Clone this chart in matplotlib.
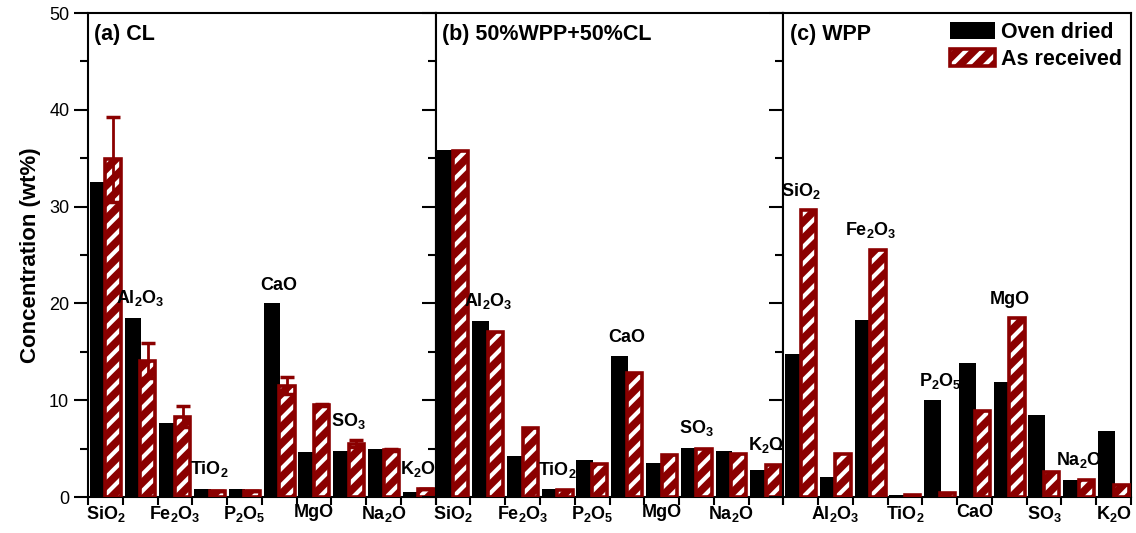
#!/usr/bin/env python3
# -*- coding: utf-8 -*-

import numpy as np
import matplotlib
matplotlib.use("Agg")
import matplotlib.pyplot as plt
from matplotlib.ticker import MultipleLocator


# ============================================================
# DATA (wt%)
# ============================================================

oxides = ["SiO$_2$", "Al$_2$O$_3$", "Fe$_2$O$_3$", "TiO$_2$", "P$_2$O$_5$",
          "CaO", "MgO", "SO$_3$", "Na$_2$O", "K$_2$O"]

panel_titles = ["(a) CL", "(b) 50%WPP+50%CL", "(c) WPP"]

cl_dried = [32.5, 18.5, 7.6, 0.85, 0.85, 20.0, 4.6, 4.75, 5.0, 0.5]
cl_received = [34.9, 14.1, 8.3, 0.65, 0.6, 11.5, 9.5, 5.5, 4.9, 0.85]
cl_received_err = [4.4, 1.8, 1.1, 0.0, 0.0, 0.9, 0.15, 0.35, 0.1, 0.0]

mix_dried = [35.8, 18.2, 4.2, 0.8, 3.8, 14.6, 3.5, 5.1, 4.8, 2.75]
mix_received = [35.7, 17.0, 7.1, 0.7, 3.4, 12.8, 4.3, 4.95, 4.45, 3.3]

wpp_dried = [14.8, 2.1, 18.25, 0.2, 10.0, 13.8, 11.9, 8.5, 1.8, 6.8]
wpp_received = [29.6, 4.4, 25.5, 0.25, 0.4, 8.9, 18.5, 2.6, 1.75, 1.2]

legend_labels = ["Oven dried", "As received"]


# ============================================================
# STYLE
# ============================================================

plt.rcParams.update({
    "font.family": ["Liberation Sans", "DejaVu Sans"],
    "font.weight": "bold",
    "mathtext.default": "regular",
    "axes.linewidth": 1.5,
    "hatch.linewidth": 3.0,
})

RED = "#8B0000"

fig = plt.figure(figsize=(11.36, 5.33), dpi=100)

left, right = 88 / 1136, 1131 / 1136
bottom, top = 1 - 497 / 533, 1 - 13 / 533
pw = (right - left) / 3

panels = [
    (cl_dried, cl_received, cl_received_err, 0),
    (mix_dried, mix_received, None, 0),
    (wpp_dried, wpp_received, None, 1),
]

x = np.arange(len(oxides))

for k, (dried, recv, err, parity) in enumerate(panels):
    ax = fig.add_axes([left + k * pw, bottom, pw, top - bottom])
    dried = np.array(dried)
    recv = np.array(recv)

    b_black = ax.bar(x + 0.29, dried, width=0.48, color="black",
                     edgecolor="none", zorder=2)
    b_fill = ax.bar(x + 0.72, recv, width=0.44, color=RED,
                    edgecolor="white", hatch="//", linewidth=0, zorder=3)
    b_edge = ax.bar(x + 0.72, recv, width=0.44, fill=False,
                    edgecolor=RED, linewidth=2.6, zorder=4)

    top_vals = np.maximum(dried, recv)
    if err is not None:
        err = np.array(err)
        ax.errorbar(x + 0.72, recv, yerr=err, fmt="none", ecolor=RED,
                    elinewidth=2, capsize=5, capthick=2.5, zorder=5)
        top_vals = np.maximum(dried, recv + err)

    # labels: half below the axis, half above the bars
    below = [i for i in x if i % 2 == parity]
    above = [i for i in x if i % 2 != parity]

    ax.set_xlim(0, len(oxides))
    ax.set_ylim(0, 50)
    ax.set_xticks(np.arange(len(oxides) + 1))
    ax.set_xticklabels([])
    ax.set_xticks([i + 0.5 for i in below], minor=True)
    ax.set_xticklabels([oxides[i] for i in below], minor=True,
                       fontsize=13, fontweight="bold")
    ax.tick_params(axis="x", which="major", direction="out", length=6,
                   width=1.5)
    ax.tick_params(axis="x", which="minor", length=0, pad=5)

    for i in above:
        ax.text(i + 0.5, top_vals[i] + 1.0, oxides[i], ha="center",
                va="bottom", fontsize=13, fontweight="bold", zorder=6)

    ax.yaxis.set_major_locator(MultipleLocator(10))
    ax.yaxis.set_minor_locator(MultipleLocator(5))
    ax.tick_params(axis="y", which="major", direction="out", length=10,
                   width=1.5, labelsize=13)
    ax.tick_params(axis="y", which="minor", direction="out", length=6,
                   width=1.5)
    if k == 0:
        for lab in ax.get_yticklabels():
            lab.set_fontweight("normal")
        ax.set_ylabel("Concentration (wt%)", fontsize=16, fontweight="bold",
                      labelpad=6)
    else:
        ax.tick_params(axis="y", labelleft=False)

    ax.text(0.018, 0.978, panel_titles[k], transform=ax.transAxes,
            ha="left", va="top", fontsize=15.5, fontweight="bold")

    if k == 2:
        ax.legend([b_black, (b_fill, b_edge)], legend_labels,
                  loc="upper right", frameon=False, fontsize=15.5,
                  handlelength=2.1, handleheight=0.85, handletextpad=0.3,
                  labelspacing=0.3, borderaxespad=0.2, borderpad=0.2)

fig.savefig("out.png", dpi=100)
